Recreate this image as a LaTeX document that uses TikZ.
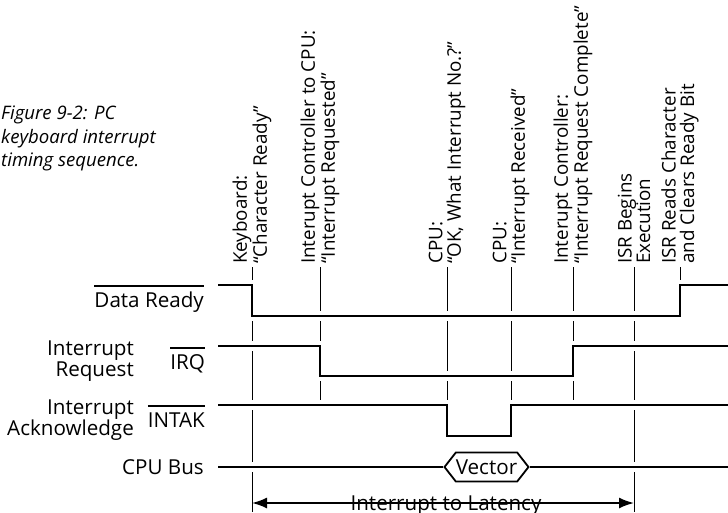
\documentclass[tikz,border=0pt]{standalone}
\usepackage{fontspec}
\setmainfont{Open Sans}
\usepackage{tikz}
\usetikzlibrary{arrows.meta, shapes.symbols}

% signal name with a bar over it, the bar level with the high state
\newsavebox\ovlbox
\newcommand{\ovl}[1]{\sbox\ovlbox{#1}\rlap{\raisebox{20.5pt}{\rule{\wd\ovlbox}{1.8pt}}}\usebox\ovlbox}

\begin{document}
\begin{tikzpicture}[
        x=1pt, y=-1pt,
        sigfont/.style={font=\fontsize{20.6}{21}\selectfont},
        evlabel/.style={rotate=90, anchor=west, align=left, inner sep=0pt, font=\fontsize{18.8}{18.5}\selectfont},
        siglabel/.style={sigfont, inner sep=0pt},
        markline/.style={line width=1pt},
        wave/.style={line width=2.4pt, preaction={draw=white, line width=10pt}},
        latarrow/.style={line width=1.8pt, {Latex[length=15pt, width=11pt]}-{Latex[length=15pt, width=11pt]}}
        ]
        \useasboundingbox (0,0) rectangle (728,512);

        % Caption
        \node [anchor=north west, align=left, inner sep=0pt, font=\fontsize{18.6}{23.5}\itshape] (caption) at (1,106)
            {Figure 9-2: PC\\keyboard interrupt\\timing sequence.};

        % Event labels and markers
        \foreach \x/\y/\nm/\txt in {
                252/512/kb/{Keyboard:\\“Character Ready”},
                320/405/icr/{Interupt Controller to CPU:\\“Interrupt Requested”},
                447/405/ok/{CPU:\\“OK, What Interrupt No.?”},
                511/405/rcv/{CPU:\\“Interrupt Received”},
                573/405/icc/{Interupt Controller:\\“Interrupt Request Complete”},
                634/512/isrb/{ISR Begins\\Execution},
                680/285/isrr/{ISR Reads Character\\and Clears Ready Bit}} {
            \node [evlabel] (ev-\nm) at (\x,264) {\txt};
            \draw [markline] ([yshift=-3pt]ev-\nm.west) -- (\x,\y);
        }

        % Signal names
        \node [siglabel, anchor=base east] (dr) at (204,307) {\ovl{Data Ready}};
        \node [siglabel, anchor=base east] (irq) at (205,369) {\ovl{IRQ}};
        \node [siglabel, anchor=base east] (intak) at (205,427) {\ovl{INTAK}};
        \node [siglabel, anchor=base east] (bus) at (204,474) {CPU Bus};
        \node [siglabel, anchor=east, align=right] (irqname) at (134,361) {Interrupt\\Request};
        \node [siglabel, anchor=east, align=right] (intakname) at (134,420) {Interrupt\\Acknowledge};

        % Waveforms
        \draw [wave] (218,285) -- (252,285) -- (252,316) -- (680,316) -- (680,285) -- (728,285);
        \draw [wave] (218,346) -- (320,346) -- (320,376) -- (573,376) -- (573,346) -- (728,346);
        \draw [wave] (218,405) -- (447,405) -- (447,436) -- (511,436) -- (511,405) -- (728,405);

        % Bus
        \coordinate (busstart) at (218,467);
        \coordinate (busend) at (728,467);
        \node [signal, signal to=east and west, signal pointer angle=104, draw, line width=1.8pt,
               minimum width=79pt, minimum height=29pt, inner sep=0pt, sigfont] (vec) at (486.5,467) {Vector};
        \draw [wave] (busstart) -- (vec.west);
        \draw [wave] (vec.east) -- (busend);

        % Latency
        \coordinate (latstart) at (252,503);
        \coordinate (latend) at (634,503);
        \node [siglabel, anchor=base] (lat) at (446,510) {Interrupt to Latency};
        \draw [latarrow] (latstart) -- (latend);
    \end{tikzpicture}
\end{document}
